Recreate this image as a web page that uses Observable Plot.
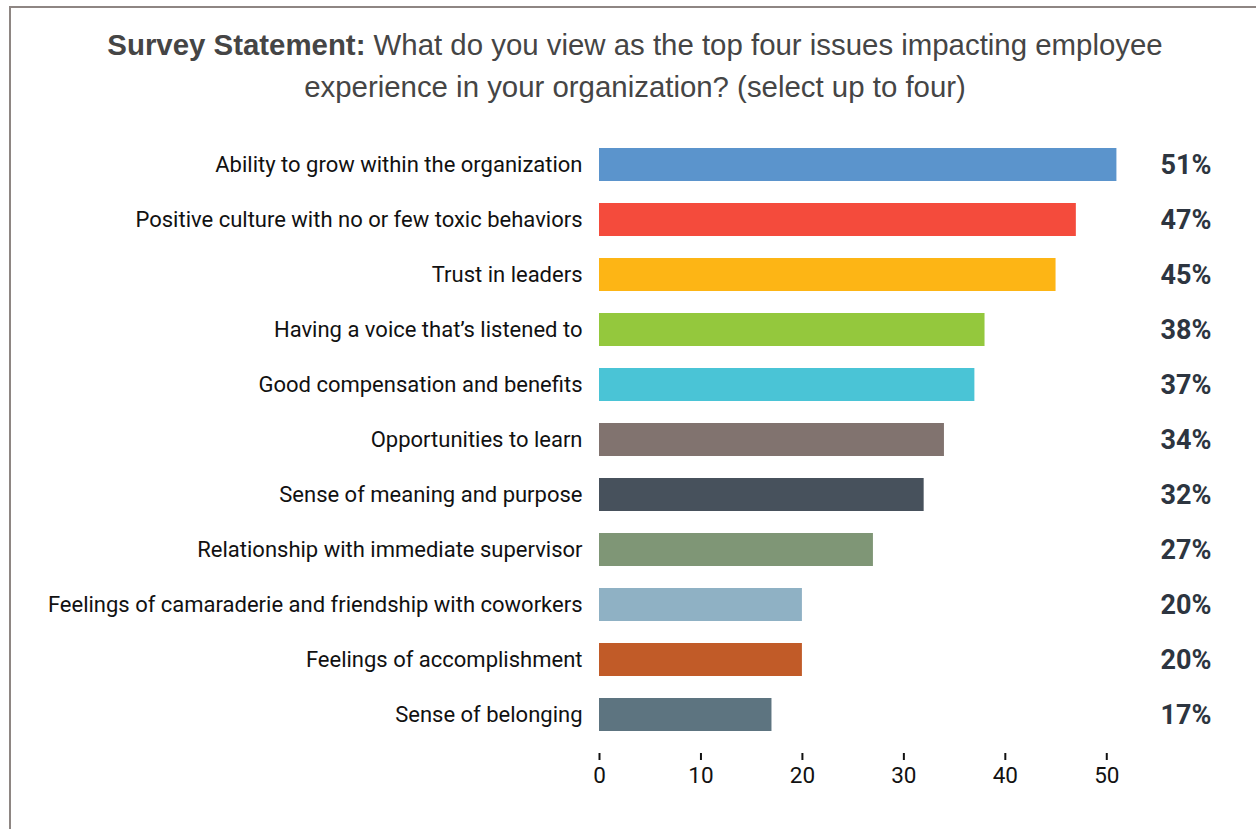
<!DOCTYPE html>
<html>
<head>
<meta charset="utf-8">
<script src="https://cdn.jsdelivr.net/npm/d3@7"></script>
<script src="https://cdn.jsdelivr.net/npm/@observablehq/plot@0.6"></script>
<style>
  html, body { margin: 0; padding: 0; background: #fff; overflow: hidden; }
  #frame { position: absolute; left: 9px; top: 6px; width: 1400px; height: 1000px; border: 2px solid #8e8683; box-sizing: border-box; pointer-events: none; z-index: 10; }
  #wrap { position: relative; width: 1256px; }
  #title { box-sizing: border-box; height: 115px; padding-top: 24px; padding-left: 14px; text-align: center;
    font-family: "Liberation Sans", Arial, sans-serif; font-size: 29.4px; line-height: 42px; color: #454545; }
  #title b { font-weight: bold; }
  #chart svg { display: block; }
</style>
</head>
<body>
<div id="frame"></div>
<div id="wrap">
  <div id="title"><b>Survey Statement:</b> What do you view as the top four issues impacting employee<br>experience in your organization? (select up to four)</div>
  <div id="chart"></div>
</div>
<script>
const categories = [
  "Ability to grow within the organization",
  "Positive culture with no or few toxic behaviors",
  "Trust in leaders",
  "Having a voice that’s listened to",
  "Good compensation and benefits",
  "Opportunities to learn",
  "Sense of meaning and purpose",
  "Relationship with immediate supervisor",
  "Feelings of camaraderie and friendship with coworkers",
  "Feelings of accomplishment",
  "Sense of belonging"
];
const values = [51, 47, 45, 38, 37, 34, 32, 27, 20, 20, 17];
const colors = ["#5b94cc", "#f44b3c", "#fdb515", "#94c83d", "#4ac4d6", "#81736f", "#47515c", "#7f9676", "#8fb1c4", "#c15b28", "#5d7480"];
const xTicks = [0, 10, 20, 30, 40, 50];

const data = categories.map((c, i) => ({category: c, value: values[i], color: colors[i]}));

const chart = Plot.plot({
  width: 1256,
  height: 714,
  marginLeft: 599,
  marginRight: 99,
  marginTop: 10,
  marginBottom: 76,
  style: {fontFamily: "Roboto, sans-serif", background: "white", color: "#111"},
  x: {domain: [0, 55]},
  y: {domain: categories, padding: 0.4},
  marks: [
    Plot.barX(data, {x: "value", y: "category", fill: "color"}),
    Plot.axisY({tickSize: 0, tickPadding: 17, fontSize: 22, label: null, fill: "#111"}),
    Plot.axisX({ticks: xTicks, tickSize: 7, tickPadding: 7, fontSize: 22.5, label: null, fill: "#111", stroke: "#111", strokeWidth: 2}),
    Plot.text(data, {y: "category", text: d => d.value + "%", frameAnchor: "right", textAnchor: "start", dx: 3,
      fontWeight: "bold", fontSize: 27, fill: "#2d3540"})
  ]
});
document.getElementById("chart").appendChild(chart);
</script>
</body>
</html>
